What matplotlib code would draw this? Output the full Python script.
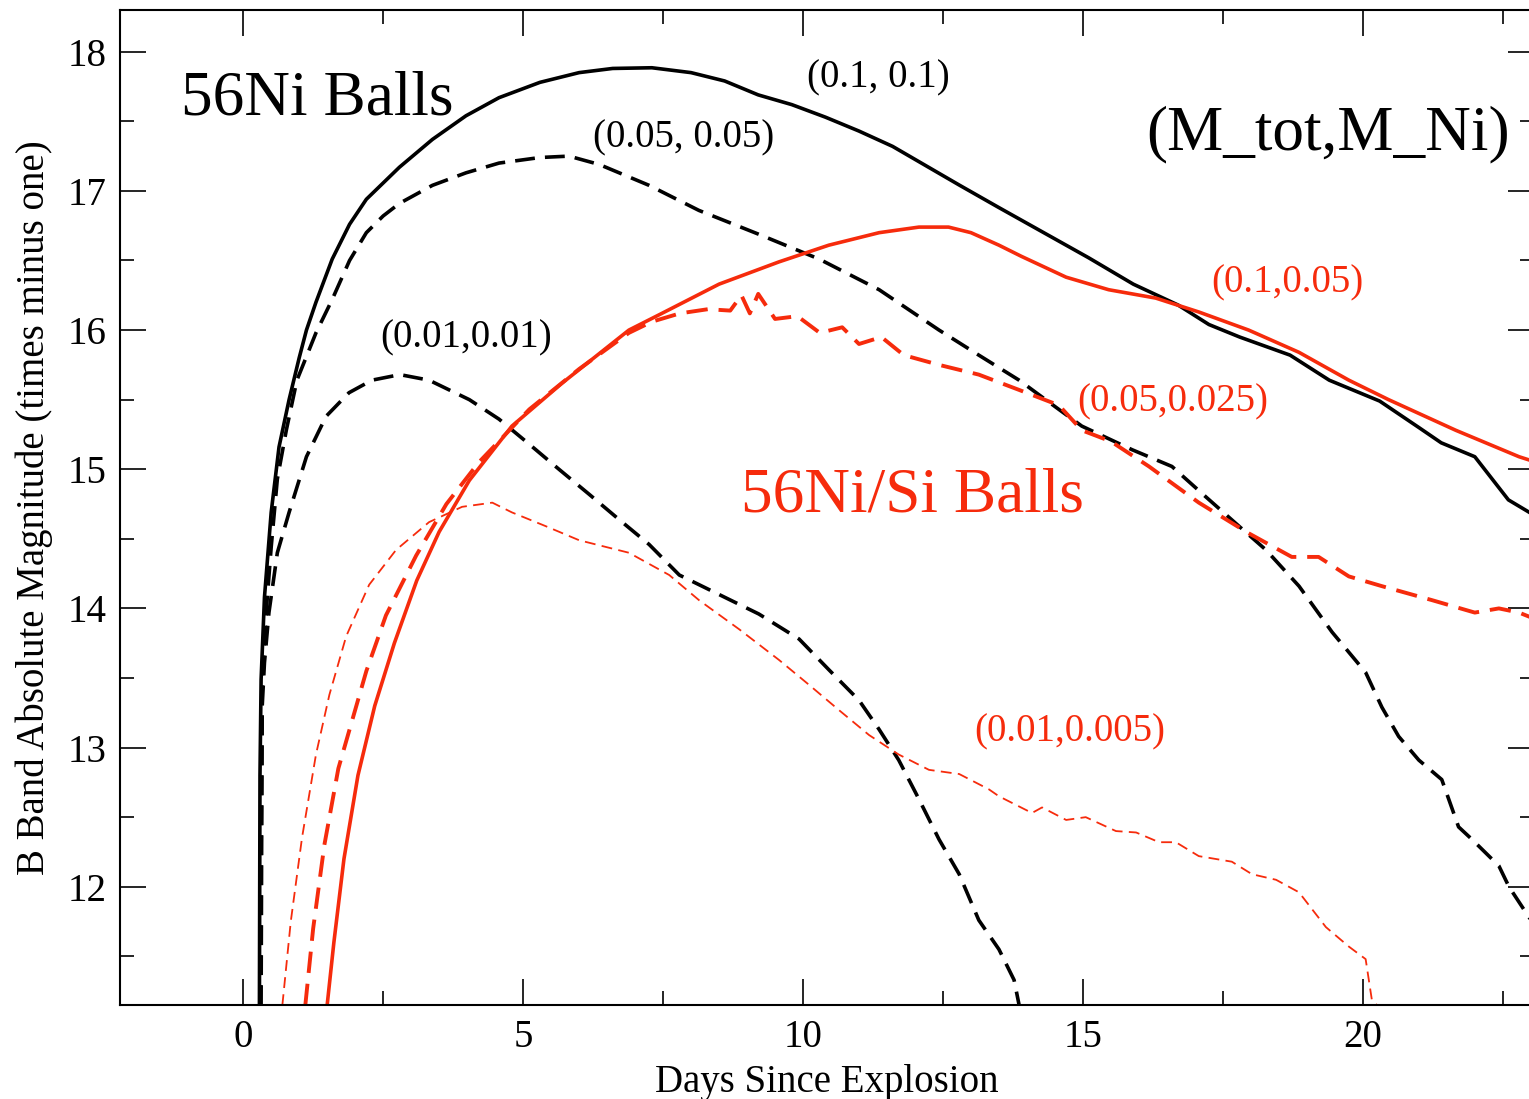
import matplotlib
matplotlib.use('Agg')
import matplotlib.pyplot as plt
from matplotlib.ticker import MultipleLocator

plt.rcParams['font.family'] = ['Liberation Serif', 'DejaVu Serif']

RED = '#f62b0c'

# 56Ni balls: (M_tot, M_Ni) = (0.1, 0.1)
t_ni_01 = [0.29, 0.30, 0.32, 0.38, 0.50, 0.64, 0.82, 1.0, 1.13, 1.3, 1.59, 1.9, 2.2, 2.79,
           3.38, 3.98, 4.57, 5.3, 6.0, 6.6, 7.3, 8.0, 8.6, 9.2, 9.8, 10.4, 11.0, 11.6,
           12.2, 12.8, 13.5, 14.3, 15.1, 15.9, 16.7, 17.25, 17.8, 18.7, 19.4, 20.3,
           21.0, 21.4, 22.0, 22.6, 23.1]
m_ni_01 = [11.15, 12.8, 13.49, 14.08, 14.69, 15.16, 15.5, 15.8, 16.0, 16.2, 16.51, 16.76,
           16.94, 17.17, 17.37, 17.54, 17.67, 17.78, 17.85, 17.88, 17.885, 17.85, 17.79,
           17.69, 17.62, 17.53, 17.43, 17.32, 17.18, 17.04, 16.88, 16.70, 16.52, 16.33,
           16.18, 16.04, 15.95, 15.82, 15.64, 15.49, 15.3, 15.19, 15.09, 14.78, 14.66]

# (0.05, 0.05)
t_ni_005 = [0.32, 0.34, 0.41, 0.5, 0.61, 0.77, 0.96, 1.3, 1.59, 1.9, 2.2, 2.5, 2.79, 3.38,
            3.98, 4.57, 5.3, 5.82, 6.36, 7.25, 8.14, 9.2, 10.29, 11.36, 12.43, 13.14,
            13.86, 14.57, 14.98, 15.88, 16.59, 17.2, 17.79, 18.27, 18.86, 19.45, 20.05,
            20.34, 20.64, 21.0, 21.41, 21.71, 21.95, 22.43, 22.61, 23.1]
m_ni_005 = [11.15, 13.49, 13.97, 14.44, 14.93, 15.28, 15.64, 15.98, 16.22, 16.5, 16.7,
            16.82, 16.91, 17.04, 17.13, 17.2, 17.24, 17.25, 17.19, 17.04, 16.86, 16.69,
            16.51, 16.29, 16.0, 15.82, 15.64, 15.43, 15.31, 15.14, 15.02, 14.80, 14.59,
            14.42, 14.16, 13.83, 13.54, 13.29, 13.08, 12.91, 12.77, 12.43, 12.34, 12.15,
            12.0, 11.7]

# (0.01, 0.01)
t_ni_001 = [0.30, 0.34, 0.38, 0.46, 0.61, 0.82, 1.13, 1.48, 1.89, 2.3, 2.8, 3.32, 4.04,
            4.57, 5.11, 5.64, 6.18, 6.71, 7.25, 7.79, 8.5, 9.21, 9.93, 10.46, 11.0,
            11.36, 11.71, 12.07, 12.43, 12.79, 13.14, 13.5, 13.77, 13.86]
m_ni_001 = [11.15, 13.3, 13.61, 13.97, 14.4, 14.69, 15.09, 15.38, 15.55, 15.64, 15.68,
            15.64, 15.5, 15.36, 15.18, 15.0, 14.82, 14.64, 14.46, 14.24, 14.1, 13.96,
            13.78, 13.56, 13.34, 13.13, 12.91, 12.63, 12.34, 12.09, 11.76, 11.55, 11.33,
            11.15]

# 56Ni/Si balls: (0.1, 0.05)
t_si_01 = [1.5, 1.62, 1.8, 2.05, 2.35, 2.7, 3.1, 3.5, 4.04, 4.8, 5.7, 6.89, 7.43, 8.5,
           9.57, 10.46, 11.36, 12.07, 12.6, 13.0, 13.5, 13.9, 14.7, 15.46, 16.3, 17.07,
           17.96, 18.86, 19.75, 20.46, 21.66, 22.79, 23.1]
m_si_01 = [11.15, 11.6, 12.2, 12.8, 13.3, 13.75, 14.2, 14.55, 14.92, 15.31, 15.62, 16.0,
           16.11, 16.33, 16.49, 16.61, 16.70, 16.74, 16.74, 16.70, 16.61, 16.53, 16.38,
           16.29, 16.23, 16.13, 16.0, 15.84, 15.64, 15.5, 15.28, 15.09, 15.05]

# (0.05, 0.025)
t_si_005 = [1.11, 1.25, 1.45, 1.7, 1.95, 2.2, 2.55, 3.09, 3.63, 4.21, 5.11, 6.0, 6.89, 7.3,
            7.8, 8.3, 8.7, 8.9, 9.05, 9.2, 9.5, 9.9, 10.3, 10.7, 11.0, 11.4, 11.8, 12.43,
            13.14, 13.86, 14.57, 14.98, 15.5, 16.18, 17.07, 17.96, 18.73, 19.21, 19.75,
            20.34, 21.23, 22.0, 22.43, 22.79, 23.1]
m_si_005 = [11.15, 11.7, 12.3, 12.85, 13.2, 13.55, 13.95, 14.38, 14.75, 15.05, 15.43,
            15.72, 15.98, 16.06, 16.12, 16.15, 16.14, 16.25, 16.12, 16.26, 16.08, 16.10,
            15.98, 16.02, 15.9, 15.95, 15.82, 15.75, 15.68, 15.57, 15.46, 15.28, 15.20,
            15.02, 14.76, 14.54, 14.37, 14.37, 14.23, 14.16, 14.06, 13.97, 14.0, 13.97,
            13.92]

# (0.01, 0.005)
t_si_001 = [0.70, 0.85, 1.05, 1.3, 1.54, 1.84, 2.25, 2.73, 3.32, 3.91, 4.45, 4.8, 5.41,
            6.0, 6.89, 7.61, 8.14, 8.86, 9.57, 10.11, 10.64, 11.18, 11.71, 12.25, 12.79,
            13.32, 13.5, 14.09, 14.27, 14.7, 15.05, 15.59, 15.95, 16.36, 16.66, 17.07,
            17.66, 18.02, 18.45, 18.86, 19.34, 19.75, 20.05, 20.16, 20.25]
m_si_001 = [11.15, 11.75, 12.35, 12.95, 13.38, 13.8, 14.17, 14.42, 14.62, 14.73, 14.76,
            14.69, 14.59, 14.49, 14.4, 14.24, 14.06, 13.85, 13.63, 13.45, 13.27, 13.09,
            12.95, 12.84, 12.81, 12.7, 12.65, 12.53, 12.57, 12.48, 12.5, 12.4, 12.39,
            12.32, 12.32, 12.22, 12.18, 12.09, 12.05, 11.96, 11.71, 11.57, 11.48, 11.19,
            11.15]

fig = plt.figure(figsize=(15.29, 10.99), dpi=100)
ax = fig.add_axes([0.0785, 0.0855, 0.9245, 0.9054])

dash_thick = (0, (5.5, 2.8))
dash_thin = (0, (6.0, 3.5))

ax.plot(t_ni_01, m_ni_01, color='black', lw=2.6)
ax.plot(t_ni_005, m_ni_005, color='black', lw=2.6, ls=dash_thick)
ax.plot(t_ni_001, m_ni_001, color='black', lw=2.6, ls=dash_thick)
ax.plot(t_si_01, m_si_01, color=RED, lw=2.6)
ax.plot(t_si_005, m_si_005, color=RED, lw=2.8, ls=dash_thick)
ax.plot(t_si_001, m_si_001, color=RED, lw=1.3, ls=dash_thin)

ax.set_xlim(-2.2, 23.05)
ax.set_ylim(11.15, 18.3)

ax.xaxis.set_major_locator(MultipleLocator(5))
ax.xaxis.set_minor_locator(MultipleLocator(2.5))
ax.yaxis.set_major_locator(MultipleLocator(1))
ax.yaxis.set_minor_locator(MultipleLocator(0.5))
ax.tick_params(which='both', direction='in', top=True, right=True, width=1.2)
ax.tick_params(which='major', length=19, labelsize=28, pad=10)
ax.tick_params(which='minor', length=10)
for s in ax.spines.values():
    s.set_linewidth(1.5)

ax.set_xlabel('Days Since Explosion', fontsize=28, labelpad=6)
ax.set_ylabel('B Band Absolute Magnitude (times minus one)', fontsize=28, labelpad=10)

# labels for the curves
ax.text(-1.107, 17.547, '56Ni Balls', fontsize=45.5, ha='left', va='baseline')
ax.text(16.125, 17.296, '(M_tot,M_Ni)', fontsize=45.5, ha='left', va='baseline')
ax.text(8.893, 14.695, '56Ni/Si Balls', fontsize=45.5, color=RED, ha='left', va='baseline')
ax.text(10.07, 17.741, '(0.1, 0.1)', fontsize=28, ha='left', va='baseline')
ax.text(6.25, 17.310, '(0.05, 0.05)', fontsize=28, ha='left', va='baseline')
ax.text(2.446, 15.874, '(0.01,0.01)', fontsize=28, ha='left', va='baseline')
ax.text(17.30, 16.269, '(0.1,0.05)', fontsize=28, color=RED, ha='left', va='baseline')
ax.text(14.89, 15.414, '(0.05,0.025)', fontsize=28, color=RED, ha='left', va='baseline')
ax.text(13.05, 13.043, '(0.01,0.005)', fontsize=28, color=RED, ha='left', va='baseline')

fig.savefig('out.png', dpi=100)
